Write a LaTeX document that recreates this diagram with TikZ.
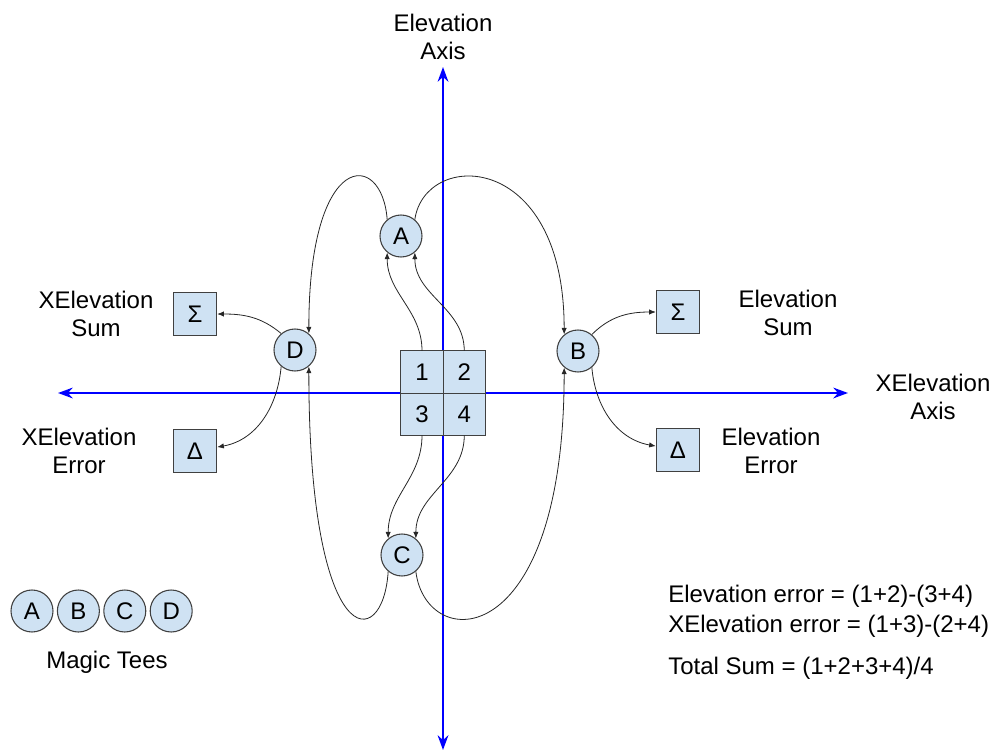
\documentclass[tikz,border=0pt]{standalone}
\usepackage{fontspec}
\setmainfont{Liberation Sans}
\usetikzlibrary{arrows.meta,positioning}
\definecolor{teefill}{HTML}{CFE2F3}
\tikzset{
  tee/.style={circle, draw=black!75, fill=teefill, line width=0.8pt, minimum size=31.5pt, inner sep=0pt},
  cell/.style={rectangle, draw=black!75, fill=teefill, line width=0.8pt, minimum size=31.7pt, inner sep=0pt, outer sep=0pt},
  port/.style={rectangle, draw=black!75, fill=teefill, line width=0.8pt, minimum width=32.5pt, minimum height=32pt, inner sep=0pt},
  lbl/.style={align=center},
  arr/.style={-{Latex[length=5pt,width=4pt]}, line width=0.6pt, black!85},
  axis/.style={{Stealth[length=11pt,width=8pt]}-{Stealth[length=11pt,width=8pt]}, line width=1.9pt, blue}
}

\begin{document}
\begin{tikzpicture}[x=0.75pt, y=-0.75pt, font=\fontsize{18}{21.5}\selectfont]
\useasboundingbox (0,0) rectangle (998,752);

% axes
\coordinate (ytop) at (443,67);
\coordinate (ybot) at (443,750);
\coordinate (xleft) at (58,393);
\coordinate (xright) at (848,393);
\draw[axis] (ybot) -- (ytop);
\draw[axis] (xleft) -- (xright);
\node[lbl] (elevaxis) at (443,37) {Elevation\\Axis};
\node[lbl] (xelevaxis) at (933,397) {XElevation\\Axis};

% quadrants
\node[cell] (c1) at (422,372) {1};
\node[cell, right=0pt of c1] (c2) {2};
\node[cell, below=0pt of c1] (c3) {3};
\node[cell, right=0pt of c3] (c4) {4};

% magic tees
\node[tee] (A) at (401,236) {A};
\node[tee] (B) at (578,351) {B};
\node[tee] (C) at (402,555) {C};
\node[tee] (D) at (295,350) {D};

% sum and difference ports
\node[port] (xsum) at (195,314) {Σ};
\node[port] (xerr) at (195,451) {Δ};
\node[port] (esum) at (678,312) {Σ};
\node[port] (eerr) at (678,450) {Δ};
\node[lbl] (xsumlbl) at (96,314) {XElevation\\Sum};
\node[lbl] (xerrlbl) at (79,451) {XElevation\\Error};
\node[lbl] (esumlbl) at (788,313) {Elevation\\Sum};
\node[lbl] (eerrlbl) at (771,451) {Elevation\\Error};

\draw[arr] (c1.north) to[out=90,in=-90] (A.-130);
\draw[arr] (c2.north) to[out=90,in=-90] (A.-50);
\draw[arr] (c3.south) to[out=-90,in=90] (C.130);
\draw[arr] (c4.south) to[out=-90,in=90] (C.50);
\draw[arr] (A.130) .. controls +(-5,-70) and +(0,-185) .. (D.50);
\draw[arr] (A.50) .. controls +(10,-70) and +(0,-185) .. (B.130);
\draw[arr] (C.-130) .. controls +(-5,82) and +(0,288) .. (D.-50);
\draw[arr] (C.-50) .. controls +(10,82) and +(0,288) .. (B.-130);
\draw[arr] (D.130) to[out=140,in=0] (xsum);
\draw[arr] (D.-130) to[out=-95,in=10] (xerr);
\draw[arr] (B.50) to[out=45,in=180] (esum);
\draw[arr] (B.-50) to[out=-85,in=170] (eerr);

% legend
\node[tee] (keyA) at (32,611) {A};
\node[tee, right=2.5pt of keyA] (keyB) {B};
\node[tee, right=2.5pt of keyB] (keyC) {C};
\node[tee, right=2.5pt of keyC] (keyD) {D};
\node (keylbl) at (107,662) {Magic Tees};

\node[align=left, anchor=north west, inner sep=0pt, font=\fontsize{18}{22.5}\selectfont] (formulas) at (668,585)
  {Elevation error = (1+2)-(3+4)\\XElevation error = (1+3)-(2+4)\\[9pt]Total Sum = (1+2+3+4)/4};
\end{tikzpicture}
\end{document}
